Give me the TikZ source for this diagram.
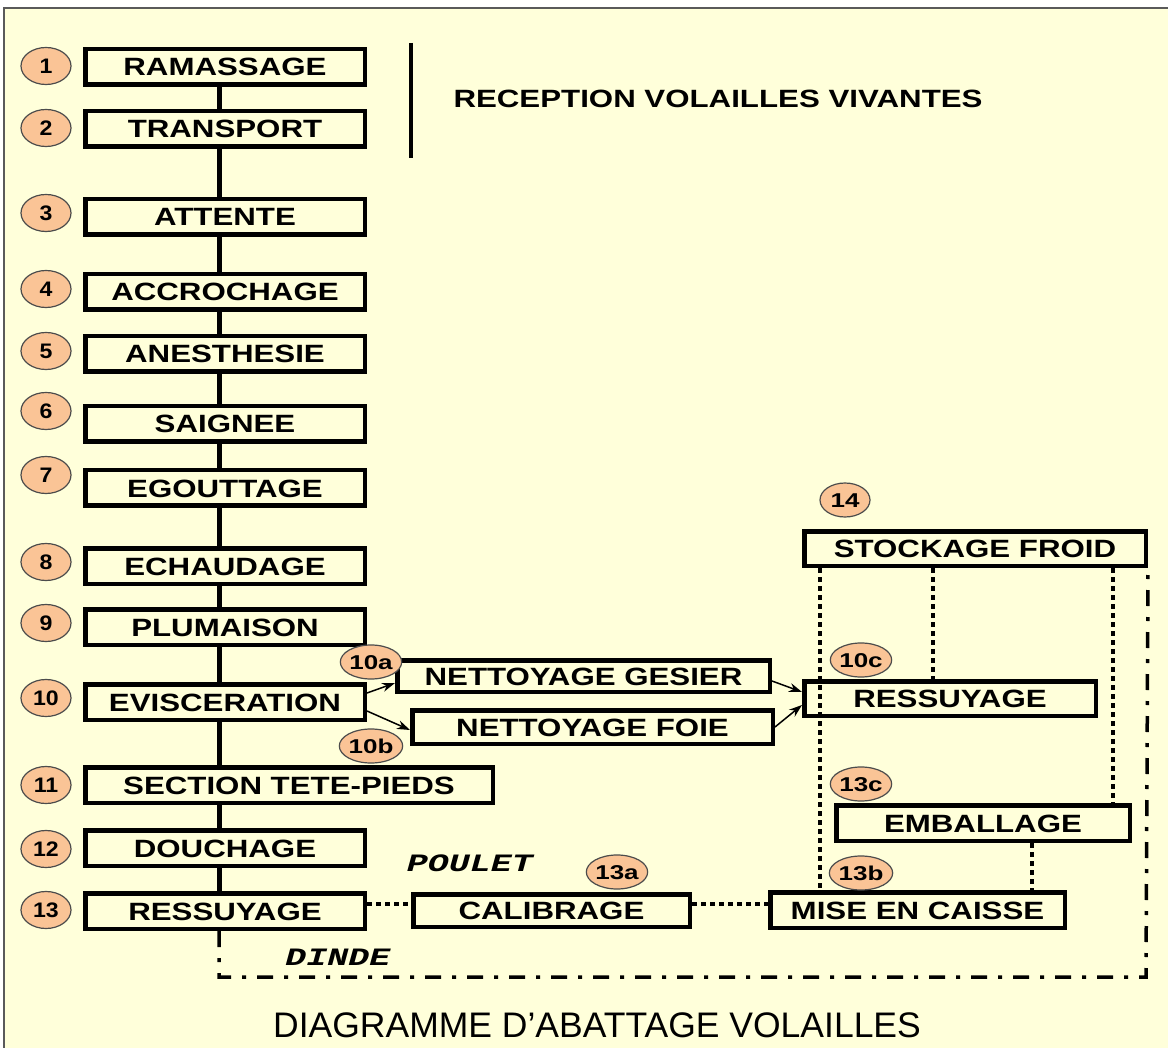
\documentclass[tikz,border=0pt]{standalone}
\usepackage{fontspec}
\setmainfont{Liberation Sans}
\newfontfamily\boxfont{Liberation Sans}[FakeStretch=1.25]
\newfontfamily\numfont{Liberation Sans}[FakeStretch=1.1]
\newfontfamily\subfont{Liberation Sans}[FakeStretch=1.3]
\newfontfamily\slabfont{Liberation Mono}[FakeStretch=1.4]
\usetikzlibrary{arrows.meta,shapes.geometric}
\definecolor{bgy}{RGB}{255,255,218}
\definecolor{peach}{RGB}{250,196,150}
\definecolor{framec}{RGB}{90,90,90}
\tikzset{
  stepbox/.style={draw=black, line width=4.5pt, fill=bgy, minimum height=35.5pt, inner sep=0pt,
    text height=18pt, text depth=0pt, font=\boxfont\bfseries\fontsize{25}{25}\selectfont},
  numc/.style={ellipse, draw=black!70, line width=1.2pt, fill=peach, minimum width=50pt, minimum height=37pt,
    inner sep=0pt, text height=15pt, text depth=0pt, font=\numfont\bfseries\fontsize{21}{21}\selectfont},
  subc/.style={numc, minimum width=47pt, minimum height=34pt, text height=14.5pt,
    font=\subfont\bfseries\fontsize{20}{20}\selectfont},
  spine/.style={line width=5pt},
  dots/.style={line width=4.5pt, dash pattern=on 4.5pt off 4.5pt},
  dashdot/.style={line width=3.5pt, dash pattern=on 16pt off 11pt on 4pt off 11pt},
  arr/.style={line width=1.5pt, -{Stealth[length=13pt,width=9pt]}},
  slab/.style={font=\slabfont\bfseries\itshape\fontsize{25}{25}\selectfont, inner sep=0pt},
}
\begin{document}
\begin{tikzpicture}[x=1pt,y=-1pt]
\useasboundingbox (0,0) rectangle (1168,1048);
\fill[white] (0,0) rectangle (1168,1048);
\fill[bgy] (4,8) rectangle (1168,1048);
\draw[line width=2pt, framec] (4,1048) -- (4,8) -- (1168,8);

% left column
\node[stepbox, minimum width=279.5pt] (n1) at (225,67) {RAMASSAGE};
\node[stepbox, minimum width=279.5pt] (n2) at (225,129) {TRANSPORT};
\node[stepbox, minimum width=279.5pt] (n3) at (225,217) {ATTENTE};
\node[stepbox, minimum width=279.5pt] (n4) at (225,292) {ACCROCHAGE};
\node[stepbox, minimum width=279.5pt] (n5) at (225,354) {ANESTHESIE};
\node[stepbox, minimum width=279.5pt] (n6) at (225,424) {SAIGNEE};
\node[stepbox, minimum width=279.5pt] (n7) at (225,488) {EGOUTTAGE};
\node[stepbox, minimum width=279.5pt] (n8) at (225,566) {ECHAUDAGE};
\node[stepbox, minimum width=279.5pt] (n9) at (225,627) {PLUMAISON};
\node[stepbox, minimum width=279.5pt] (n10) at (225,702) {EVISCERATION};
\node[stepbox, minimum width=407.5pt] (n11) at (289,785) {SECTION TETE-PIEDS};
\node[stepbox, minimum width=279.5pt] (n12) at (225,848) {DOUCHAGE};
\node[stepbox, minimum width=279.5pt] (n13) at (225,911) {RESSUYAGE};

% right part
\node[stepbox, minimum width=372.5pt, minimum height=31.5pt] (ges) at (583.5,676) {NETTOYAGE GESIER};
\node[stepbox, minimum width=360.5pt, minimum height=33.5pt] (foie) at (592.5,727) {NETTOYAGE FOIE};
\node[stepbox, minimum width=291.5pt, minimum height=34.5pt] (res) at (950,698.5) {RESSUYAGE};
\node[stepbox, minimum width=341.5pt, minimum height=34.5pt] (stock) at (975,548.5) {STOCKAGE FROID};
\node[stepbox, minimum width=293.5pt] (emb) at (983,823) {EMBALLAGE};
\node[stepbox, minimum width=294.5pt] (mise) at (917.5,910) {MISE EN CAISSE};
\node[stepbox, minimum width=276.5pt, minimum height=32.5pt] (calib) at (551.5,910.5) {CALIBRAGE};

% spine
\coordinate (sp) at (219,0);
\foreach \a/\b in {n1/n2,n2/n3,n3/n4,n4/n5,n5/n6,n6/n7,n7/n8,n8/n9,n9/n10,n10/n11,n11/n12,n12/n13}
  \draw[spine] (\a.south -| sp) -- (\b.north -| sp);

% reception bar and label
\coordinate (rt) at (411,43);
\coordinate (rb) at (411,158);
\draw[line width=4pt] (rt) -- (rb);
\node[font=\boxfont\bfseries\fontsize{25}{25}\selectfont, inner sep=0pt] (rec) at (718,99) {RECEPTION VOLAILLES VIVANTES};

% dash-dot return path (DINDE)
\coordinate (bl) at (219,977);
\coordinate (br) at (1146,977);
\draw[dashdot] (n13.south -| sp) -- (bl) -- (br) -- (stock.south east);

% dotted links
\coordinate (d1) at (820,0);
\coordinate (d2) at (933,0);
\coordinate (d3) at (1113,0);
\coordinate (d4) at (1032,0);
\coordinate (hy) at (0,904);
\draw[dots] (stock.south -| d1) -- (mise.north -| d1);
\draw[dots] (stock.south -| d2) -- (res.north -| d2);
\draw[dots] (stock.south -| d3) -- (emb.north -| d3);
\draw[dots] (emb.south -| d4) -- (mise.north -| d4);
\draw[dots] (n13.east |- hy) -- (calib.west |- hy);
\draw[dots] (calib.east |- hy) -- (mise.west |- hy);

% arrows
\draw[arr] ([yshift=9pt]n10.east) -- ([yshift=-7pt]ges.west);
\draw[arr] ([yshift=-9pt]n10.east) -- ([yshift=-3pt]foie.west);
\draw[arr] ([yshift=-5pt]ges.east) -- ([yshift=6.5pt]res.west);
\draw[arr] (foie.east) -- ([yshift=-6.5pt]res.west);

% numbers
\foreach \k/\y in {1/66,2/128,3/213,4/289,5/351,6/411,7/475,8/562,9/623,10/698,11/785,12/849,13/910}
  \node[numc] (c\k) at (46,\y) {\k};
\node[subc] (c10a) at (371,662) {10a};
\node[subc] (c10b) at (371,746) {10b};
\node[subc] (c10c) at (861,660) {10c};
\node[subc, minimum width=50pt] (c14) at (845,500) {14};
\node[subc] (c13a) at (617,872) {13a};
\node[subc] (c13b) at (861,873) {13b};
\node[subc] (c13c) at (861,784) {13c};

% labels
\node[slab] (poulet) at (470,863) {POULET};
\node[slab] (dinde) at (338,957) {DINDE};
\node[font=\fontsize{35.5}{35.5}\selectfont, inner sep=0pt] (title) at (597,1025) {DIAGRAMME D’ABATTAGE VOLAILLES};
\end{tikzpicture}
\end{document}
